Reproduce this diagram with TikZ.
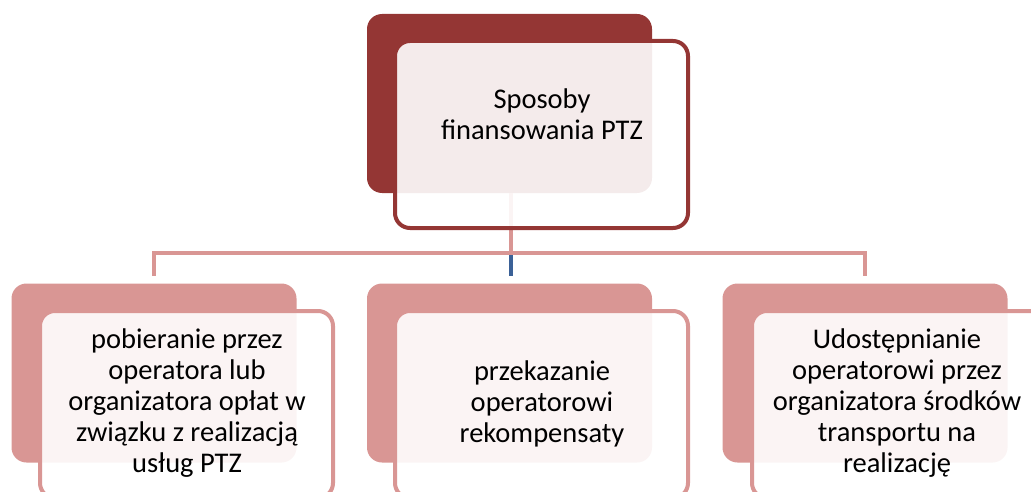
\documentclass[tikz,border=0pt]{standalone}
\usepackage{fontspec}
\setmainfont{Carlito}
\definecolor{topred}{HTML}{943634}
\definecolor{pinkc}{HTML}{D99694}
\definecolor{bluec}{HTML}{3B6197}
\begin{document}
\begin{tikzpicture}[x=1pt,y=-1pt,
  backbox/.style={rectangle,rounded corners=15pt,inner sep=0pt,outer sep=0pt,minimum width=285pt,minimum height=179pt},
  frontbox/.style={rectangle,rounded corners=15pt,inner sep=0pt,outer sep=0pt,minimum width=293pt,minimum height=187pt,line width=4pt,fill=white,fill opacity=0.9,draw opacity=1},
  txt/.style={align=center,inner sep=0pt,font=\fontsize{28.5}{31}\selectfont,text opacity=1},
  pinkline/.style={draw=pinkc,line width=4pt},
  blueline/.style={draw=bluec,line width=4pt}]
\useasboundingbox (0,0) rectangle (1031,492);
\clip (0,0) rectangle (1031,492);
% back boxes
\node[backbox,fill=topred] (topback) at (509.5,103.5) {};
\node[backbox,fill=pinkc] (leftback) at (154,373) {};
\node[backbox,fill=pinkc] (midback) at (509.5,373) {};
\node[backbox,fill=pinkc] (rightback) at (865,373) {};
% connectors
\coordinate (bus) at (510.5,253);
\draw[blueline] (bus) -- ([yshift=8pt]midback.north -| bus);
\draw[pinkline] (topback.south -| bus) -- (bus);
\draw[pinkline] ([yshift=8pt]leftback.north) |- (bus) -| ([yshift=8pt]rightback.north);
% front boxes
\node[frontbox,draw=topred] (topfront) at (541.5,134.5) {};
\node[frontbox,draw=pinkc] (leftfront) at (186.5,404.5) {};
\node[frontbox,draw=pinkc] (midfront) at (541.5,404.5) {};
\node[frontbox,draw=pinkc] (rightfront) at (898.5,404.5) {};
% texts
\node[txt] (toptext) at (542,114) {Sposoby\\finansowania PTZ};
\node[txt] (lefttext) at (187,403) {pobieranie przez\\operatora lub\\organizatora opłat w\\związku z realizacją\\usług PTZ};
\node[txt] (midtext) at (542,404) {przekazanie\\operatorowi\\rekompensaty};
\node[txt] (righttext) at (897,403) {Udostępnianie\\operatorowi przez\\organizatora środków\\transportu na\\realizację};
\end{tikzpicture}
\end{document}
